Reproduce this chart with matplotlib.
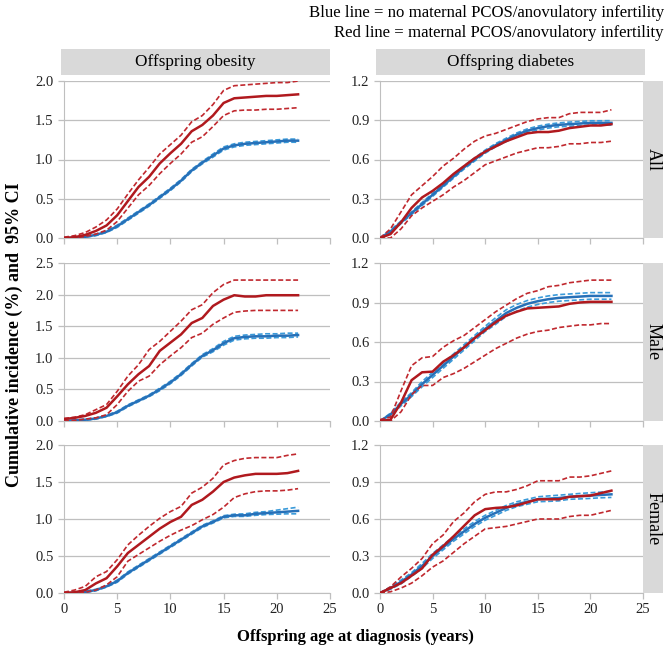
import numpy as np
import matplotlib
matplotlib.use("Agg")
import matplotlib.pyplot as plt

plt.rcParams['font.family'] = ['Liberation Serif', 'DejaVu Serif']

# 年龄（年）
age = list(range(0, 23))

# ---- Offspring obesity ----
ob_all_red = [0, 0.01, 0.04, 0.09, 0.16, 0.29, 0.47, 0.65, 0.78, 0.95, 1.08, 1.20, 1.36, 1.44, 1.56, 1.72, 1.78, 1.79, 1.80, 1.81, 1.81, 1.82, 1.83]
ob_all_red_hi = [0.01, 0.03, 0.07, 0.14, 0.23, 0.37, 0.56, 0.74, 0.90, 1.07, 1.19, 1.31, 1.48, 1.56, 1.70, 1.88, 1.94, 1.95, 1.96, 1.97, 1.98, 1.98, 2.00]
ob_all_red_lo = [0, 0, 0.02, 0.05, 0.10, 0.21, 0.38, 0.55, 0.67, 0.82, 0.95, 1.07, 1.22, 1.29, 1.42, 1.56, 1.62, 1.63, 1.63, 1.64, 1.64, 1.65, 1.66]
ob_all_blue = [0, 0.005, 0.015, 0.04, 0.08, 0.15, 0.24, 0.33, 0.42, 0.52, 0.62, 0.73, 0.86, 0.96, 1.05, 1.14, 1.18, 1.20, 1.21, 1.22, 1.23, 1.24, 1.24]
ob_all_blue_hi = [0, 0.01, 0.025, 0.05, 0.09, 0.165, 0.255, 0.345, 0.435, 0.535, 0.635, 0.745, 0.875, 0.975, 1.07, 1.16, 1.20, 1.22, 1.23, 1.24, 1.25, 1.26, 1.26]
ob_all_blue_lo = [0, 0, 0.01, 0.03, 0.07, 0.135, 0.225, 0.315, 0.405, 0.505, 0.605, 0.715, 0.845, 0.945, 1.03, 1.12, 1.16, 1.18, 1.19, 1.20, 1.21, 1.22, 1.22]

ob_male_red = [0.03, 0.05, 0.08, 0.13, 0.21, 0.39, 0.58, 0.74, 0.87, 1.11, 1.24, 1.37, 1.55, 1.63, 1.82, 1.92, 1.99, 1.97, 1.97, 1.99, 1.99, 1.99, 1.99]
ob_male_red_hi = [0.04, 0.06, 0.10, 0.18, 0.26, 0.47, 0.71, 0.89, 1.13, 1.26, 1.42, 1.58, 1.76, 1.84, 2.03, 2.16, 2.23, 2.23, 2.23, 2.23, 2.23, 2.23, 2.23]
ob_male_red_lo = [0, 0.01, 0.03, 0.05, 0.10, 0.26, 0.47, 0.63, 0.71, 0.89, 1.03, 1.16, 1.32, 1.39, 1.53, 1.63, 1.72, 1.74, 1.75, 1.75, 1.75, 1.75, 1.75]
ob_male_blue = [0, 0.01, 0.02, 0.04, 0.08, 0.14, 0.24, 0.32, 0.40, 0.50, 0.61, 0.74, 0.89, 1.03, 1.12, 1.23, 1.31, 1.33, 1.34, 1.34, 1.35, 1.35, 1.36]
ob_male_blue_hi = [0, 0.015, 0.03, 0.05, 0.09, 0.155, 0.255, 0.335, 0.415, 0.52, 0.63, 0.76, 0.91, 1.05, 1.145, 1.26, 1.34, 1.36, 1.37, 1.38, 1.38, 1.39, 1.39]
ob_male_blue_lo = [0, 0.005, 0.01, 0.03, 0.07, 0.125, 0.225, 0.305, 0.385, 0.48, 0.59, 0.72, 0.87, 1.01, 1.095, 1.20, 1.28, 1.30, 1.31, 1.31, 1.32, 1.32, 1.33]

ob_fem_red = [0, 0.01, 0.04, 0.13, 0.20, 0.36, 0.54, 0.65, 0.76, 0.87, 0.96, 1.03, 1.19, 1.26, 1.37, 1.50, 1.56, 1.59, 1.61, 1.61, 1.61, 1.62, 1.65]
ob_fem_red_hi = [0.01, 0.04, 0.09, 0.22, 0.29, 0.45, 0.65, 0.78, 0.90, 1.01, 1.10, 1.17, 1.35, 1.43, 1.55, 1.73, 1.79, 1.82, 1.83, 1.83, 1.83, 1.86, 1.88]
ob_fem_red_lo = [0, 0, 0.01, 0.04, 0.11, 0.22, 0.43, 0.52, 0.61, 0.70, 0.78, 0.85, 0.91, 0.99, 1.06, 1.16, 1.29, 1.34, 1.37, 1.38, 1.38, 1.39, 1.41]
ob_fem_blue = [0, 0.005, 0.015, 0.04, 0.09, 0.16, 0.27, 0.36, 0.45, 0.54, 0.63, 0.72, 0.81, 0.90, 0.96, 1.03, 1.05, 1.05, 1.07, 1.08, 1.09, 1.10, 1.11]
ob_fem_blue_hi = [0, 0.01, 0.025, 0.05, 0.10, 0.175, 0.285, 0.375, 0.465, 0.555, 0.645, 0.735, 0.825, 0.915, 0.975, 1.045, 1.065, 1.07, 1.09, 1.10, 1.12, 1.14, 1.16]
ob_fem_blue_lo = [0, 0, 0.005, 0.03, 0.08, 0.145, 0.255, 0.345, 0.435, 0.525, 0.615, 0.705, 0.795, 0.885, 0.945, 1.015, 1.035, 1.035, 1.05, 1.06, 1.065, 1.07, 1.07]

# ---- Offspring diabetes ----
db_all_red = [0, 0.03, 0.12, 0.23, 0.31, 0.36, 0.42, 0.49, 0.55, 0.61, 0.66, 0.70, 0.74, 0.77, 0.80, 0.81, 0.81, 0.82, 0.84, 0.85, 0.86, 0.86, 0.87]
db_all_red_hi = [0, 0.07, 0.20, 0.33, 0.40, 0.47, 0.55, 0.61, 0.68, 0.74, 0.78, 0.80, 0.83, 0.86, 0.89, 0.91, 0.92, 0.92, 0.95, 0.96, 0.96, 0.96, 0.98]
db_all_red_lo = [0, 0, 0.07, 0.17, 0.23, 0.28, 0.33, 0.39, 0.44, 0.50, 0.56, 0.59, 0.62, 0.65, 0.67, 0.69, 0.69, 0.70, 0.72, 0.72, 0.73, 0.73, 0.74]
db_all_blue = [0, 0.05, 0.12, 0.19, 0.26, 0.33, 0.40, 0.47, 0.54, 0.60, 0.66, 0.71, 0.75, 0.79, 0.82, 0.84, 0.855, 0.865, 0.87, 0.875, 0.88, 0.88, 0.88]
db_all_blue_hi = [0, 0.06, 0.13, 0.20, 0.272, 0.342, 0.412, 0.482, 0.552, 0.612, 0.672, 0.722, 0.763, 0.803, 0.834, 0.855, 0.87, 0.88, 0.886, 0.891, 0.896, 0.896, 0.897]
db_all_blue_lo = [0, 0.04, 0.11, 0.18, 0.248, 0.318, 0.388, 0.458, 0.528, 0.588, 0.648, 0.698, 0.737, 0.777, 0.806, 0.825, 0.84, 0.85, 0.854, 0.859, 0.864, 0.864, 0.863]

db_male_red = [0, 0.01, 0.14, 0.31, 0.37, 0.375, 0.45, 0.50, 0.56, 0.63, 0.69, 0.75, 0.80, 0.83, 0.855, 0.86, 0.865, 0.87, 0.89, 0.90, 0.905, 0.905, 0.905]
db_male_red_hi = [0.01, 0.03, 0.23, 0.42, 0.48, 0.49, 0.56, 0.61, 0.65, 0.71, 0.77, 0.83, 0.88, 0.93, 0.97, 0.99, 1.02, 1.03, 1.05, 1.06, 1.07, 1.07, 1.07]
db_male_red_lo = [0, 0, 0.07, 0.20, 0.27, 0.27, 0.33, 0.36, 0.40, 0.45, 0.50, 0.55, 0.59, 0.63, 0.66, 0.68, 0.69, 0.71, 0.72, 0.73, 0.73, 0.74, 0.74]
db_male_blue = [0, 0.05, 0.13, 0.20, 0.28, 0.35, 0.42, 0.49, 0.56, 0.63, 0.70, 0.76, 0.82, 0.86, 0.89, 0.91, 0.925, 0.935, 0.94, 0.945, 0.95, 0.95, 0.95]
db_male_blue_hi = [0, 0.06, 0.145, 0.215, 0.30, 0.37, 0.44, 0.51, 0.58, 0.65, 0.72, 0.785, 0.845, 0.885, 0.915, 0.935, 0.95, 0.96, 0.965, 0.97, 0.975, 0.975, 0.975]
db_male_blue_lo = [0, 0.04, 0.115, 0.185, 0.26, 0.33, 0.40, 0.47, 0.54, 0.61, 0.68, 0.735, 0.795, 0.835, 0.865, 0.885, 0.90, 0.91, 0.915, 0.92, 0.925, 0.925, 0.925]

db_fem_red = [0, 0.04, 0.08, 0.14, 0.20, 0.31, 0.38, 0.46, 0.545, 0.63, 0.68, 0.69, 0.695, 0.71, 0.735, 0.76, 0.76, 0.76, 0.78, 0.785, 0.79, 0.81, 0.83]
db_fem_red_hi = [0, 0.05, 0.13, 0.20, 0.28, 0.40, 0.47, 0.58, 0.65, 0.74, 0.80, 0.82, 0.82, 0.84, 0.87, 0.91, 0.91, 0.91, 0.94, 0.94, 0.95, 0.97, 0.99]
db_fem_red_lo = [0, 0.01, 0.04, 0.08, 0.14, 0.21, 0.26, 0.33, 0.40, 0.46, 0.52, 0.53, 0.54, 0.56, 0.58, 0.60, 0.60, 0.60, 0.62, 0.63, 0.63, 0.65, 0.67]
db_fem_blue = [0, 0.04, 0.09, 0.15, 0.22, 0.30, 0.37, 0.44, 0.50, 0.56, 0.61, 0.65, 0.69, 0.72, 0.74, 0.76, 0.765, 0.77, 0.78, 0.785, 0.79, 0.795, 0.80]
db_fem_blue_hi = [0, 0.05, 0.105, 0.165, 0.24, 0.32, 0.39, 0.46, 0.52, 0.58, 0.63, 0.67, 0.71, 0.74, 0.76, 0.78, 0.787, 0.793, 0.80, 0.807, 0.813, 0.818, 0.825]
db_fem_blue_lo = [0, 0.03, 0.075, 0.135, 0.20, 0.28, 0.35, 0.42, 0.48, 0.54, 0.59, 0.63, 0.67, 0.70, 0.72, 0.74, 0.743, 0.747, 0.76, 0.763, 0.767, 0.772, 0.775]

col_titles = ['Offspring obesity', 'Offspring diabetes']
row_titles = ['All', 'Male', 'Female']

panels = [
    [(ob_all_red, ob_all_red_hi, ob_all_red_lo, ob_all_blue, ob_all_blue_hi, ob_all_blue_lo),
     (db_all_red, db_all_red_hi, db_all_red_lo, db_all_blue, db_all_blue_hi, db_all_blue_lo)],
    [(ob_male_red, ob_male_red_hi, ob_male_red_lo, ob_male_blue, ob_male_blue_hi, ob_male_blue_lo),
     (db_male_red, db_male_red_hi, db_male_red_lo, db_male_blue, db_male_blue_hi, db_male_blue_lo)],
    [(ob_fem_red, ob_fem_red_hi, ob_fem_red_lo, ob_fem_blue, ob_fem_blue_hi, ob_fem_blue_lo),
     (db_fem_red, db_fem_red_hi, db_fem_red_lo, db_fem_blue, db_fem_blue_hi, db_fem_blue_lo)],
]

W, H = 668, 650
fig = plt.figure(figsize=(W / 100, H / 100), dpi=100)

# 像素位置 (left, right) / (top, bottom)
col_px = [(64, 330), (380, 643)]
row_px = [(81, 238), (263, 421), (445, 593)]
left_ylims = [(2.0, 0.5), (2.5, 0.5), (2.0, 0.5)]

red = '#B0191E'
red_d = '#C0282E'
blue = '#2670B8'
blue_d = '#3A9AD9'
grid_c = '#BFBFBF'
strip_c = '#D9D9D9'


def px_axes(l, t, r, b):
    return [l / W, 1 - b / H, (r - l) / W, (b - t) / H]


for i in range(3):
    for j in range(2):
        l, r = col_px[j]
        t, b = row_px[i]
        ax = fig.add_axes(px_axes(l, t, r, b))
        rd, rhi, rlo, bl, bhi, blo = panels[i][j]
        ax.plot(age, bhi, color=blue_d, lw=1.2, ls=(0, (3, 1.5)), zorder=3)
        ax.plot(age, blo, color=blue_d, lw=1.2, ls=(0, (3, 1.5)), zorder=3)
        ax.plot(age, bl, color=blue, lw=1.8, zorder=4)
        ax.plot(age, rhi, color=red_d, lw=1.2, ls=(0, (3, 1.5)), zorder=5)
        ax.plot(age, rlo, color=red_d, lw=1.2, ls=(0, (3, 1.5)), zorder=5)
        ax.plot(age, rd, color=red, lw=1.8, zorder=6)

        ax.set_xlim(0, 25)
        ax.set_xticks(range(0, 26, 5))
        if j == 0:
            top, step = left_ylims[i]
        else:
            top, step = 1.2, 0.3
        ax.set_ylim(0, top)
        ax.set_yticks(np.round(np.arange(0, top + 1e-6, step), 2))
        ax.yaxis.set_major_formatter(matplotlib.ticker.FormatStrFormatter('%.1f'))
        ax.grid(axis='y', color=grid_c, lw=0.9)
        ax.set_axisbelow(True)
        for s in ['top', 'right']:
            ax.spines[s].set_visible(False)
        for s in ['left', 'bottom']:
            ax.spines[s].set_color(grid_c)
        ax.tick_params(colors=grid_c, labelcolor='#222222', labelsize=10.5, length=4, width=0.9)
        if i < 2:
            ax.tick_params(axis='x', labelbottom=False)

        # 右侧灰色条
        if j == 1:
            sax = fig.add_axes(px_axes(643, t, 663, b))
            sax.set_facecolor(strip_c)
            sax.set_xticks([])
            sax.set_yticks([])
            for s in sax.spines.values():
                s.set_visible(False)
            sax.text(0.5, 0.5, row_titles[i], rotation=-90, ha='center', va='center',
                     fontsize=13, transform=sax.transAxes)

# 顶部标题条
for j, (l, r) in enumerate([(61, 330), (376, 645)]):
    tax = fig.add_axes(px_axes(l, 49, r, 75))
    tax.set_facecolor(strip_c)
    tax.set_xticks([])
    tax.set_yticks([])
    for s in tax.spines.values():
        s.set_visible(False)
    tax.text(0.5, 0.5, col_titles[j], ha='center', va='center', fontsize=12.3,
             transform=tax.transAxes)

fig.text(664 / W, 1 - 13 / H, 'Blue line = no maternal PCOS/anovulatory infertility',
         ha='right', va='center', fontsize=12.1)
fig.text(664 / W, 1 - 33 / H, 'Red line = maternal PCOS/anovulatory infertility',
         ha='right', va='center', fontsize=12.1)

fig.text(14 / W, 1 - 335 / H, 'Cumulative incidence (%) and  95% CI', rotation=90,
         ha='center', va='center', fontsize=13, fontweight='bold')
fig.text(355 / W, 1 - 637 / H, 'Offspring age at diagnosis (years)',
         ha='center', va='center', fontsize=12, fontweight='bold')

fig.savefig('out.png', dpi=100)
